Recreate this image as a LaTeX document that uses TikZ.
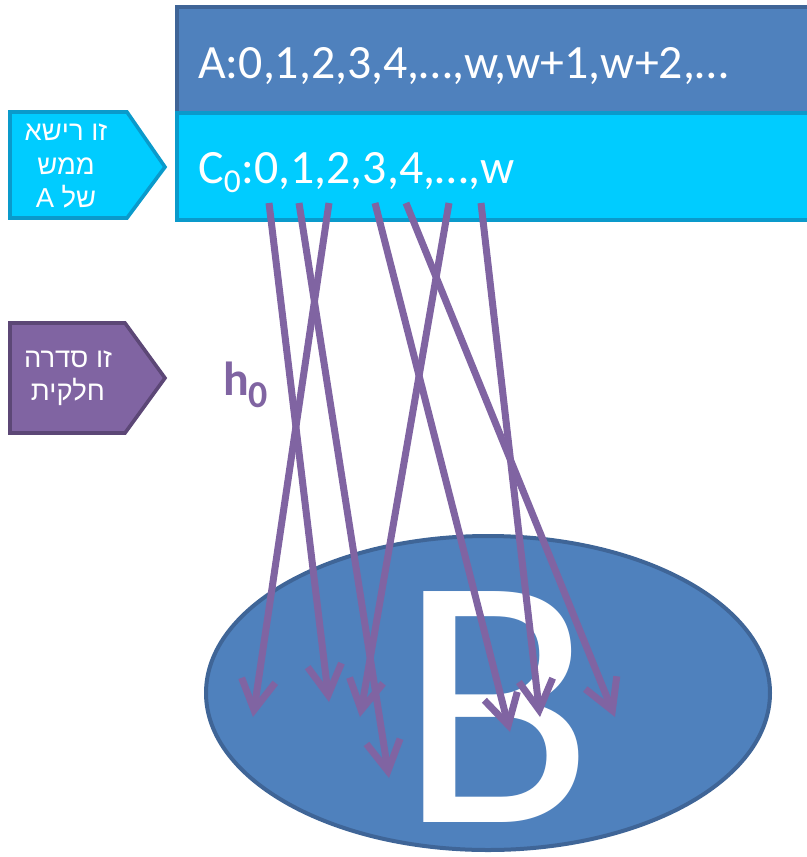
\documentclass[tikz,border=0pt]{standalone}
\usepackage{fontspec}
\setmainfont{Carlito}
\newfontfamily\hebfont[Script=Hebrew]{Liberation Sans}
\TeXXeTstate=1
\usepackage{tikz}
\usetikzlibrary{arrows.meta}

\definecolor{ablue}{HTML}{4F81BD}
\definecolor{ablueline}{HTML}{3F6597}
\definecolor{ccyan}{HTML}{00CCFF}
\definecolor{ccyanline}{HTML}{0A9ACB}
\definecolor{hpurple}{HTML}{8064A2}
\definecolor{hpurpleline}{HTML}{5C4776}

\tikzset{
  seqbox/.style={line width=0.1cm},
  notebox/.style={line width=0.09cm, line join=miter},
  notetext/.style={text=white, align=center, font=\hebfont\fontsize{19.5}{23.5}\selectfont},
  maparrow/.style={draw=hpurple, line width=0.175cm,
    -{Straight Barb[length=0.75cm, width=0.85cm]}}
}

\begin{document}
\begin{tikzpicture}[x=0.025cm, y=-0.025cm]
\useasboundingbox (0,0) rectangle (807,857);

% the sequence A and its prefix C_0
\draw[seqbox, fill=ablue, draw=ablueline] (177,7) rectangle (815,113);
\draw[seqbox, fill=ccyan, draw=ccyanline] (177,113) rectangle (815,220);
\node[anchor=base west, inner sep=0, text=white, font=\fontsize{34}{40}\selectfont] (seqA) at (198,78) {A:0,1,2,3,4,…,w,w+1,w+2,…};
\node[anchor=base west, inner sep=0, text=white, font=\fontsize{34}{40}\selectfont] (seqC) at (198,183) {C\textsubscript{0}:0,1,2,3,4,…,w};

% side notes
\draw[notebox, fill=ccyan, draw=ccyanline] (10,112) -- (127,112) -- (165,167) -- (127,218) -- (10,218) -- cycle;
\node[notetext] (prefixnote) at (66,166) {\beginR זו רישא\endR\\\beginR ממש\endR\\\beginR של A\endR};
\draw[notebox, fill=hpurple, draw=hpurpleline] (10,323) -- (125,323) -- (165,378) -- (125,433) -- (10,433) -- cycle;
\node[notetext] (partialnote) at (68,378) {\beginR זו סדרה\endR\\\beginR חלקית\endR};

% the set B
\draw[line width=0.1cm, fill=ablue, draw=ablueline] (488,693) ellipse [x radius=282, y radius=157];
\node[anchor=base, inner sep=0, text=white, font=\fontsize{256}{256}\selectfont] (setB) at (496,822) {B};

% the map h_0
\node[anchor=base west, inner sep=0, text=hpurple, font=\bfseries\fontsize{34}{40}\selectfont] (hmap) at (223,395) {h\raisebox{-9pt}{\fontsize{27}{30}\selectfont 0}};

\coordinate (src1) at (269,203);
\coordinate (src2) at (299,203);
\coordinate (src3) at (329,203);
\coordinate (src4) at (375,203);
\coordinate (src5) at (406,203);
\coordinate (src6) at (449,203);
\coordinate (src7) at (481,203);

\coordinate (dst1) at (329,702);
\coordinate (dst2) at (389,778);
\coordinate (dst3) at (253,717);
\coordinate (dst4) at (510,732);
\coordinate (dst5) at (615,717);
\coordinate (dst6) at (360,717);
\coordinate (dst7) at (540,717);

\draw[maparrow] (src1) -- (dst1);
\draw[maparrow] (src2) -- (dst2);
\draw[maparrow] (src3) -- (dst3);
\draw[maparrow] (src4) -- (dst4);
\draw[maparrow] (src5) -- (dst5);
\draw[maparrow] (src6) -- (dst6);
\draw[maparrow] (src7) -- (dst7);
\end{tikzpicture}
\end{document}
